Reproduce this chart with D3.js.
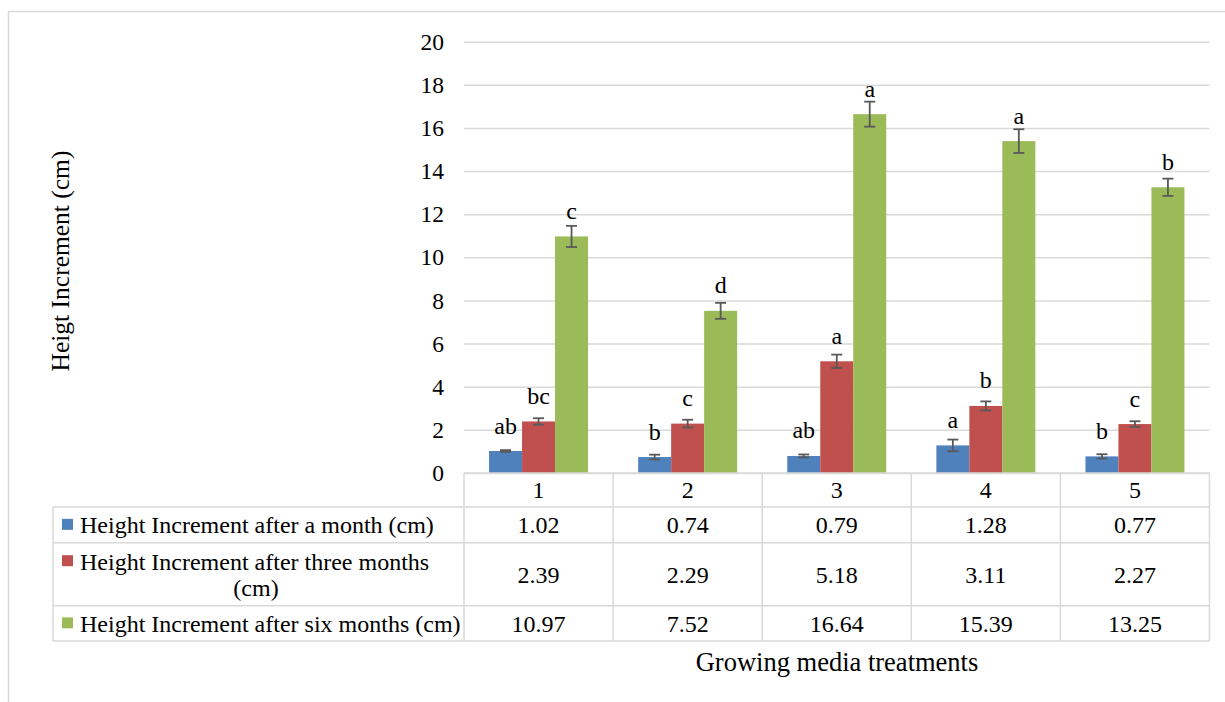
<!DOCTYPE html>
<html>
<head>
<meta charset="utf-8">
<script src="https://cdn.jsdelivr.net/npm/d3@7"></script>
<style>
  body { margin: 0; background: #fff; }
  svg { display: block; }
</style>
</head>
<body>
<svg id="chart" width="1225" height="702" font-family="Liberation Serif, Tinos, DejaVu Serif, serif"></svg>
<script>
// Treatments on the category axis
const categories = ["1", "2", "3", "4", "5"];

// Series names shown in the data table legend
const seriesNames = [
  "Height Increment after a month (cm)",
  "Height Increment after three months (cm)",
  "Height Increment after six months (cm)"
];

// Mean height increments (cm)
const monthValues = [1.02, 0.74, 0.79, 1.28, 0.77];
const threeMonthValues = [2.39, 2.29, 5.18, 3.11, 2.27];
const sixMonthValues = [10.97, 7.52, 16.64, 15.39, 13.25];

// Standard errors
const monthErrors = [0.04, 0.11, 0.07, 0.27, 0.10];
const threeMonthErrors = [0.15, 0.18, 0.31, 0.21, 0.13];
const sixMonthErrors = [0.49, 0.37, 0.58, 0.55, 0.40];

// Mean separation letters
const monthLetters = ["ab", "b", "ab", "a", "b"];
const threeMonthLetters = ["bc", "c", "a", "b", "c"];
const sixMonthLetters = ["c", "d", "a", "a", "b"];

// Axis ticks
const yTicks = [0, 2, 4, 6, 8, 10, 12, 14, 16, 18, 20];

const FONT = "'Liberation Serif', Tinos, 'DejaVu Serif', serif";
const colors = ["#4F81BD", "#C0504D", "#9BBB59"];
const gridColor = "#D9D9D9";

const series = [
  { name: seriesNames[0], values: monthValues, errors: monthErrors, letters: monthLetters },
  { name: seriesNames[1], values: threeMonthValues, errors: threeMonthErrors, letters: threeMonthLetters },
  { name: seriesNames[2], values: sixMonthValues, errors: sixMonthErrors, letters: sixMonthLetters }
];

const svg = d3.select("#chart");

// Shorthand for serif text
function label(sel, size) {
  return sel.style("font-family", FONT).attr("font-size", size).attr("fill", "#000");
}

// Outer chart frame
svg.append("rect")
  .attr("x", 8.5).attr("y", 11.5)
  .attr("width", 1240).attr("height", 720)
  .attr("fill", "none").attr("stroke", gridColor).attr("stroke-width", 1.5);

const plotLeft = 464, plotRight = 1209.5, plotBottom = 473, plotTop = 41.7;

const y = d3.scaleLinear().domain([0, 20]).range([plotBottom, plotTop]);
const x0 = d3.scaleBand().domain(categories).range([plotLeft, plotRight]).padding(0);
const x1 = d3.scaleBand().domain(d3.range(series.length))
  .range([0, x0.bandwidth()]).paddingInner(0).paddingOuter(0.76);

// Value axis with gridlines
const yAxis = svg.append("g")
  .attr("transform", `translate(${plotLeft},0)`)
  .call(d3.axisLeft(y).tickValues(yTicks).tickSize(-(plotRight - plotLeft)).tickPadding(20));
yAxis.attr("font-family", null).attr("font-size", null);
yAxis.select(".domain").remove();
yAxis.selectAll(".tick line").attr("stroke", gridColor).attr("stroke-width", 1.5);
label(yAxis.selectAll(".tick text"), 23.5);

// Bars, error bars and letters per series
series.forEach((s, si) => {
  const g = svg.append("g");
  const rows = categories.map((c, ci) => ({
    cat: c, v: s.values[ci], e: s.errors[ci], letter: s.letters[ci]
  }));
  g.selectAll("rect").data(rows).join("rect")
    .attr("x", d => x0(d.cat) + x1(si))
    .attr("y", d => y(d.v))
    .attr("width", x1.bandwidth())
    .attr("height", d => y(0) - y(d.v))
    .attr("fill", colors[si]);

  const eb = g.selectAll("g.err").data(rows).join("g").attr("class", "err")
    .attr("stroke", "#595959").attr("stroke-width", 1.8);
  const cx = d => x0(d.cat) + x1(si) + x1.bandwidth() / 2;
  eb.append("line")
    .attr("x1", cx).attr("x2", cx)
    .attr("y1", d => y(d.v + d.e)).attr("y2", d => y(d.v - d.e));
  eb.append("line")
    .attr("x1", d => cx(d) - 5.5).attr("x2", d => cx(d) + 5.5)
    .attr("y1", d => y(d.v + d.e)).attr("y2", d => y(d.v + d.e));
  eb.append("line")
    .attr("x1", d => cx(d) - 5.5).attr("x2", d => cx(d) + 5.5)
    .attr("y1", d => y(d.v - d.e)).attr("y2", d => y(d.v - d.e));

  label(g.selectAll("text.letter").data(rows).join("text").attr("class", "letter"), 24)
    .attr("x", cx)
    .attr("y", d => y(d.v) - 17.5)
    .attr("text-anchor", "middle")
    .text(d => d.letter);
});

// Data table under the plot
const tableLeft = 53;
const rowEdges = [473, 507, 542.7, 605.7, 641];
const table = svg.append("g").attr("stroke", gridColor).attr("stroke-width", 1.5).attr("fill", "none");

table.append("line").attr("x1", plotLeft).attr("x2", plotRight).attr("y1", rowEdges[0]).attr("y2", rowEdges[0]);
rowEdges.slice(1).forEach(yy => {
  table.append("line").attr("x1", tableLeft).attr("x2", plotRight).attr("y1", yy).attr("y2", yy);
});
table.append("line").attr("x1", tableLeft).attr("x2", tableLeft).attr("y1", rowEdges[1]).attr("y2", rowEdges[4]);
categories.forEach(c => {
  table.append("line").attr("x1", x0(c)).attr("x2", x0(c)).attr("y1", rowEdges[0]).attr("y2", rowEdges[4]);
});
table.append("line").attr("x1", plotRight).attr("x2", plotRight).attr("y1", rowEdges[0]).attr("y2", rowEdges[4]);

// Category labels
label(svg.append("g").selectAll("text").data(categories).join("text"), 24)
  .attr("x", c => x0(c) + x0.bandwidth() / 2)
  .attr("y", (rowEdges[0] + rowEdges[1]) / 2)
  .attr("dy", "0.35em")
  .attr("text-anchor", "middle")
  .text(c => c);

// Table rows: legend key, series name and values
series.forEach((s, si) => {
  const top = rowEdges[si + 1], bottom = rowEdges[si + 2];
  const mid = (top + bottom) / 2;
  const g = svg.append("g");
  const lines = si === 1 ? ["Height Increment after three months", "(cm)"] : [s.name];
  const firstY = lines.length > 1 ? mid - 13 : mid;
  g.append("rect")
    .attr("x", 62).attr("y", firstY - 6)
    .attr("width", 11).attr("height", 11)
    .attr("fill", colors[si]);
  label(g.append("text"), 24)
    .attr("x", 80).attr("y", firstY).attr("dy", "0.35em")
    .text(lines[0]);
  if (lines.length > 1) {
    label(g.append("text"), 24)
      .attr("x", 256).attr("y", firstY + 26).attr("dy", "0.35em")
      .attr("text-anchor", "middle")
      .text(lines[1]);
  }
  label(g.selectAll("text.val").data(s.values).join("text").attr("class", "val"), 24)
    .attr("x", (v, i) => x0(categories[i]) + x0.bandwidth() / 2)
    .attr("y", mid).attr("dy", "0.35em")
    .attr("text-anchor", "middle")
    .text(v => v.toFixed(2));
});

// Axis titles
label(svg.append("text"), 26.5)
  .attr("x", 837).attr("y", 662).attr("dy", "0.35em")
  .attr("text-anchor", "middle")
  .text("Growing media treatments");

label(svg.append("text"), 25.5)
  .attr("transform", "translate(60,261) rotate(-90)")
  .attr("dy", "0.35em")
  .attr("text-anchor", "middle")
  .text("Heigt Increment (cm)");
</script>
</body>
</html>
